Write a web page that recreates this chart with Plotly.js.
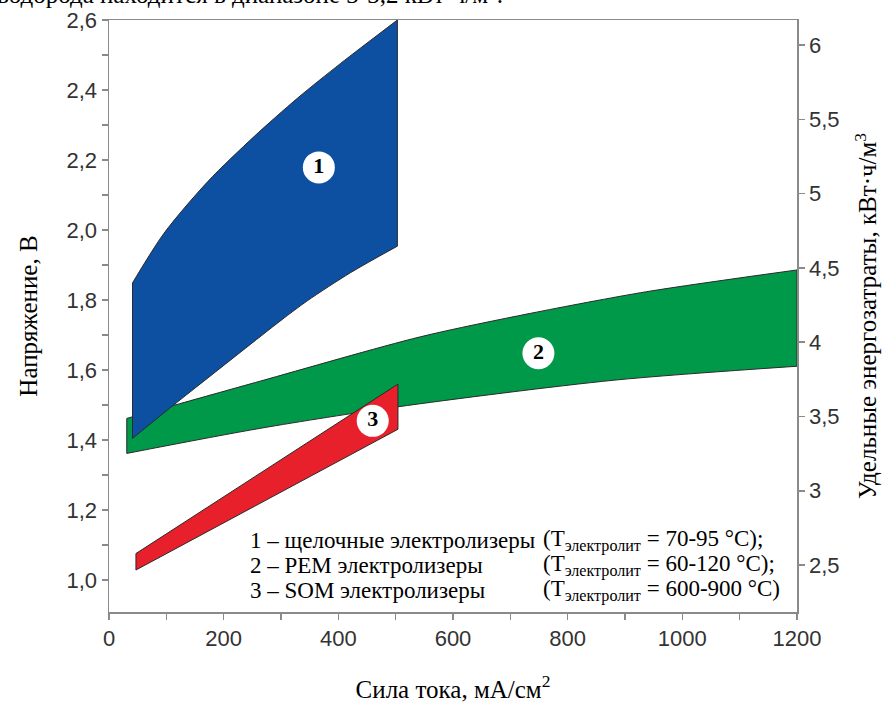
<!DOCTYPE html>
<html>
<head>
<meta charset="utf-8">
<script src="https://cdn.plot.ly/plotly-3.0.1.min.js"></script>
<style>html,body{margin:0;padding:0;background:#fff;}#chart{width:890px;height:707px;}</style>
</head>
<body>
<div id="chart"></div>
<script>
// ---- Data ----
// 1 – alkaline electrolysers (blue)
const alkUpperX = [41, 96, 172, 253, 329, 404, 503];
const alkUpperV = [1.849, 1.991, 2.138, 2.267, 2.377, 2.476, 2.600];
const alkLowerX = [41, 108, 230, 300, 346, 421, 503];
const alkLowerV = [1.405, 1.494, 1.652, 1.742, 1.798, 1.878, 1.954];
// 2 – PEM electrolysers (green)
const pemUpperX = [31, 108, 265, 543, 735, 938, 1200];
const pemUpperV = [1.462, 1.497, 1.569, 1.695, 1.762, 1.824, 1.886];
const pemLowerX = [31, 265, 503, 880, 1200];
const pemLowerV = [1.362, 1.434, 1.495, 1.571, 1.611];
// 3 – SOM electrolysers (red)
const somUpperX = [47, 504];
const somUpperV = [1.076, 1.560];
const somLowerX = [47, 504];
const somLowerV = [1.029, 1.431];
// circle labels
const labelText = ['1', '2', '3'];
const labelX = [366, 749, 460];
const labelV = [2.179, 1.648, 1.455];
// legend text
const legendLeft = ['1 – щелочные электролизеры', '2 – PEM электролизеры', '3 – SOM электролизеры'];
const legendRight = ['(T<sub>электролит</sub> = 70-95 °C);', '(T<sub>электролит</sub> = 60-120 °C);', '(T<sub>электролит</sub> = 600-900 °C)'];

const outline = {color: '#2a2a2a', width: 1};
const curve = {color: '#2a2a2a', width: 1, shape: 'spline', smoothing: 0.8};

function region(ux, uy, lx, ly, color) {
  const n = ux.length - 1, m = lx.length - 1;
  return [
    {x: lx, y: ly, type: 'scatter', mode: 'lines', line: curve, hoverinfo: 'skip', showlegend: false},
    {x: ux, y: uy, type: 'scatter', mode: 'lines', fill: 'tonexty', fillcolor: color, line: curve, hoverinfo: 'skip', showlegend: false},
    {x: [ux[0], lx[0], null, ux[n], lx[m]], y: [uy[0], ly[0], null, uy[n], ly[m]], type: 'scatter', mode: 'lines',
     line: outline, connectgaps: false, hoverinfo: 'skip', showlegend: false}
  ];
}

const traces = []
  .concat(region(pemUpperX, pemUpperV, pemLowerX, pemLowerV, '#00994a'))
  .concat(region(alkUpperX, alkUpperV, alkLowerX, alkLowerV, '#0d4fa0'))
  .concat(region(somUpperX, somUpperV, somLowerX, somLowerV, '#e8202b'))
  .concat([
    {x: labelX, y: labelV, type: 'scatter', mode: 'markers+text',
     text: labelText.map(t => '<b>' + t + '</b>'), textposition: 'middle center',
     textfont: {family: 'Liberation Serif, Times New Roman, serif', size: 22, color: '#000'},
     marker: {size: 32, color: '#ffffff', line: {width: 0}}, hoverinfo: 'skip', showlegend: false},
    {x: [0], y: [3], yaxis: 'y2', type: 'scatter', mode: 'markers', marker: {opacity: 0}, hoverinfo: 'skip', showlegend: false}
  ]);

const tickFont = {family: 'Liberation Sans, Arial, sans-serif', size: 22, color: '#333333'};
const titleFont = {family: 'Liberation Serif, Times New Roman, serif', size: 25, color: '#000000'};
const legendFont = {family: 'Liberation Serif, Times New Roman, serif', size: 23, color: '#000'};
const axisGray = '#8a8a8a';

const annotations = [];
const lineY = [0.121, 0.078, 0.036];
for (let i = 0; i < 3; i++) {
  annotations.push({xref: 'paper', yref: 'paper', x: 0.202, y: lineY[i], xanchor: 'left', yanchor: 'middle',
    text: legendLeft[i], showarrow: false, font: legendFont});
  annotations.push({xref: 'paper', yref: 'paper', x: 0.628, y: lineY[i], xanchor: 'left', yanchor: 'middle',
    text: legendRight[i], showarrow: false, font: legendFont});
}
annotations.push({xref: 'paper', yref: 'paper', x: -0.165, y: 1.048, xanchor: 'left', yanchor: 'middle',
  text: 'водорода находится в диапазоне 3-3,2 кВт·ч/м<sup>3</sup>.', showarrow: false,
  font: {family: 'Liberation Serif, Times New Roman, serif', size: 25, color: '#000'}});

const layout = {
  width: 890, height: 707,
  margin: {l: 109, r: 93, t: 20, b: 95, pad: 0},
  paper_bgcolor: '#ffffff', plot_bgcolor: '#ffffff',
  separators: ',.',
  showlegend: false,
  xaxis: {
    range: [0, 1200], dtick: 200, tick0: 0, tickformat: 'd',
    ticks: 'outside', ticklen: 6, tickwidth: 1.5, tickcolor: axisGray,
    minor: {dtick: 100, ticks: 'outside', ticklen: 6, tickwidth: 1.5, tickcolor: axisGray, showgrid: false},
    showline: true, linecolor: axisGray, linewidth: 1.5, mirror: true,
    showgrid: false, zeroline: false, tickfont: tickFont,
    title: {text: 'Сила тока, мА/см<sup>2</sup>', font: titleFont, standoff: 30}
  },
  yaxis: {
    range: [0.909, 2.6], dtick: 0.2, tick0: 0, tickformat: '.1f',
    ticks: 'outside', ticklen: 6, tickwidth: 1.5, tickcolor: axisGray,
    minor: {dtick: 0.1, ticks: 'outside', ticklen: 6, tickwidth: 1.5, tickcolor: axisGray, showgrid: false},
    showline: true, linecolor: axisGray, linewidth: 1.5,
    showgrid: false, zeroline: false, tickfont: tickFont,
    title: {text: 'Напряжение, В', font: titleFont, standoff: 22}
  },
  yaxis2: {
    overlaying: 'y', side: 'right', anchor: 'x',
    range: [2.184, 6.168], dtick: 0.5, tick0: 0,
    ticks: 'outside', ticklen: 6, tickwidth: 1.5, tickcolor: axisGray,
    showline: true, linecolor: axisGray, linewidth: 1.5,
    showgrid: false, zeroline: false, tickfont: tickFont,
    title: {text: 'Удельные энергозатраты, кВт·ч/м<sup>3</sup>', font: titleFont, standoff: 20}
  },
  annotations: annotations
};

Plotly.newPlot('chart', traces, layout, {staticPlot: true, displayModeBar: false});
</script>
</body>
</html>
